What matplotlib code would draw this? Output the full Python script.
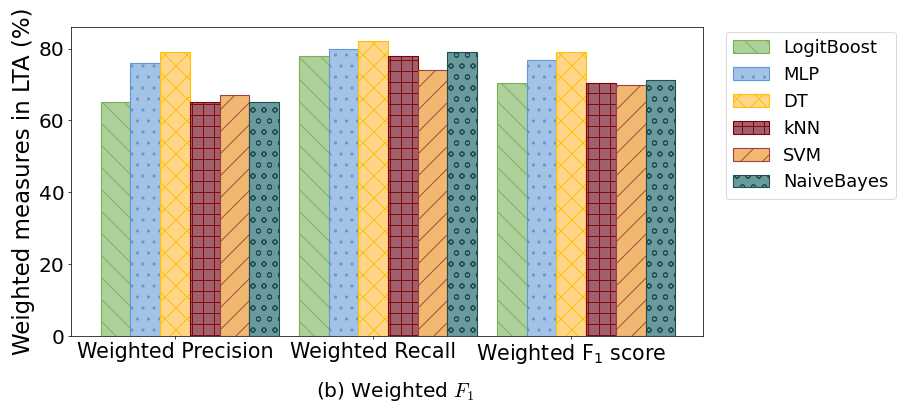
import matplotlib
matplotlib.use('Agg')
import matplotlib.pyplot as plt
import numpy as np

metrics = ['Weighted Precision', 'Weighted Recall', 'Weighted F$_1$ score']
models = ['LogitBoost', 'MLP', 'DT', 'kNN', 'SVM', 'NaiveBayes']

logitboost = [65, 78, 70.5]
mlp = [76, 80, 76.7]
dt = [79, 82, 79]
knn = [65, 78, 70.5]
svm = [67, 74, 69.8]
naivebayes = [65, 79, 71.2]

face_colors = ['#aed09a', '#a4c2e6', '#fed589', '#a0606e', '#f1b872', '#6a9a9e']
edge_colors = ['#78b055', '#5b9bd5', '#ffc000', '#800000', '#a0413c', '#1f4e4f']
hatches = ['\\', '.', 'x', '+', '/', 'o']

DPI = 66


def plot_bars():
    series = [logitboost, mlp, dt, knn, svm, naivebayes]
    x = np.arange(len(metrics))
    width = 0.15

    fig = plt.figure(figsize=(904 / DPI, 413 / DPI), dpi=DPI)
    ax = fig.add_axes([0.0785, 0.1864, 0.6992, 0.7482])

    for i, vals in enumerate(series):
        ax.bar(x + (i - 2) * width, vals, width, label=models[i],
               color=face_colors[i], edgecolor=edge_colors[i],
               hatch=hatches[i], linewidth=1.2)

    ax.set_xlim(-0.525, 2.665)
    ax.set_ylim(0, 86)
    ax.set_xticks(x)
    ax.set_xticklabels(metrics, fontsize=22.5)
    ax.set_yticks([0, 20, 40, 60, 80])
    ax.tick_params(axis='y', labelsize=22)
    ax.set_ylabel('Weighted measures in LTA (%)', fontsize=25)

    fig.legend(loc='upper left', bbox_to_anchor=(0.793, 0.945),
               fontsize=19.5, frameon=True)

    fig.text(0.437, 0.052, '(b) Weighted $F_1$', ha='center', va='center',
             fontsize=22, math_fontfamily='cm')

    fig.savefig('out.png', dpi=DPI)


if __name__ == '__main__':
    plot_bars()
